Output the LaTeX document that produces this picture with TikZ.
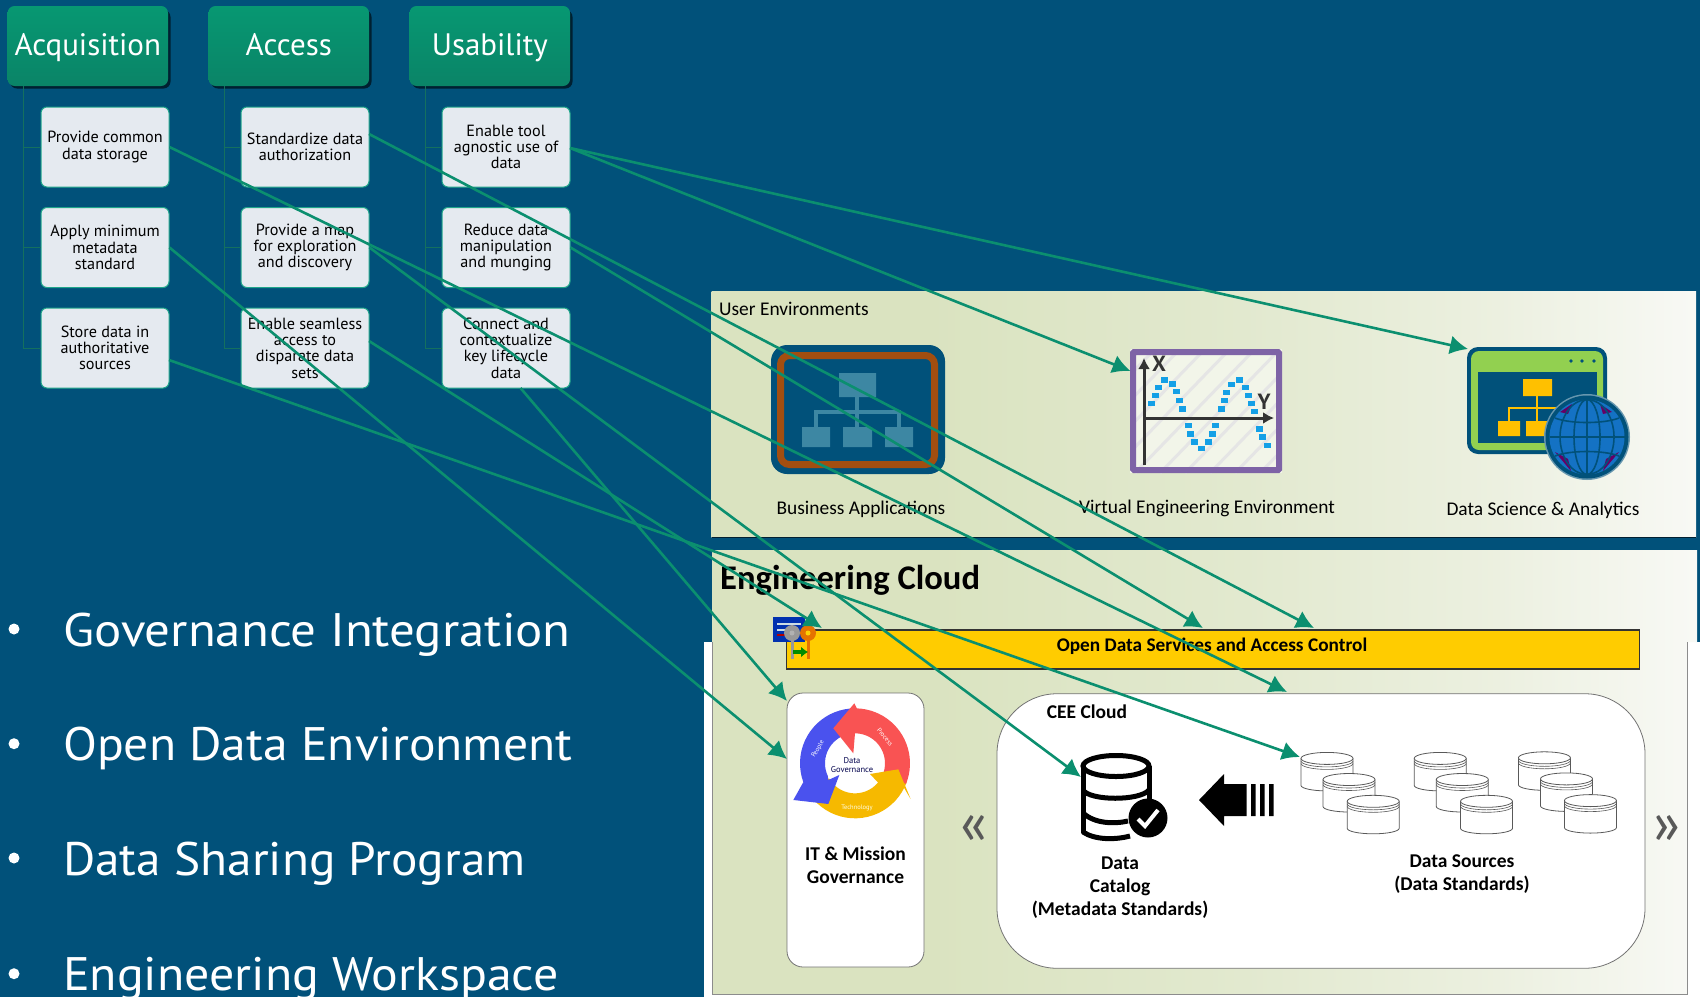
\documentclass[tikz,border=0pt]{standalone}
\usepackage{fontspec}
\usetikzlibrary{arrows.meta,calc}
\setmainfont{PT Sans}
\newfontfamily\carl{Carlito}
\newfontfamily\widesans[FakeStretch=1.085]{PT Sans}
\definecolor{bgblue}{HTML}{01517A}
\definecolor{arrowgreen}{HTML}{0B8F6F}
\definecolor{treegreen}{HTML}{14705F}
\definecolor{headgreen}{HTML}{079872}
\definecolor{headgreenB}{HTML}{0A8467}
\definecolor{childfill}{HTML}{E5EAF0}
\definecolor{childline}{HTML}{1FA58A}
\definecolor{panelL}{HTML}{DAE3C0}
\definecolor{panelM}{HTML}{E2E9CF}
\definecolor{panelN}{HTML}{ECF0E0}
\definecolor{panelR}{HTML}{F8F9F5}
\definecolor{barY}{HTML}{FFCC00}
\definecolor{iconteal}{HTML}{3D87A3}
\definecolor{iconorange}{HTML}{A24E10}
\definecolor{iconpurple}{HTML}{7E63A6}
\definecolor{dotblue}{HTML}{14A0E6}
\definecolor{dsgreen}{HTML}{92D050}
\definecolor{dsyellow}{HTML}{FFC000}
\definecolor{globeblue}{HTML}{1472C4}
\definecolor{cyclered}{HTML}{F95353}
\definecolor{cycleblue}{HTML}{4A52EE}
\definecolor{cycleyellow}{HTML}{F6B900}
\pgfdeclarehorizontalshading{panelshade}{100bp}{color(0bp)=(panelL); color(36bp)=(panelL); color(52bp)=(panelM); color(65bp)=(panelN); color(75bp)=(panelR); color(100bp)=(panelR)}
\tikzset{
  head/.style={rounded corners=7pt,minimum width=160.5pt,minimum height=80pt,inner sep=0pt,
    top color=headgreen,bottom color=headgreenB,text=white,text height=23pt,text depth=5pt,
    font=\fontsize{31}{36}\selectfont},
  headshadow/.style={rounded corners=7pt,fill=black!60!bgblue},
  child/.style={rounded corners=6pt,minimum width=128pt,minimum height=80pt,inner sep=0pt,
    fill=childfill,draw=childline,line width=1pt,align=center,text=black,
    font=\fontsize{16.2}{16.3}\selectfont},
  tree/.style={draw=treegreen,line width=1pt},
  link/.style={draw=arrowgreen,line width=2.6pt,-{Latex[length=18pt,width=19pt]}},
  lab/.style={font=\carl\fontsize{19.4}{23}\selectfont,align=center,text=black,inner sep=0pt},
  blab/.style={font=\carl\bfseries\fontsize{19.5}{23}\selectfont,align=center,text=black,inner sep=0pt},
  bullet/.style={anchor=base west,inner sep=0pt,text=white,font=\widesans\fontsize{47}{50}\selectfont},
  chev/.style={inner sep=0pt,text=black!65,font=\carl\fontsize{66}{66}\selectfont},
  cylb/.style={draw=black!65,line width=.8pt,fill=white}
}
\newcommand{\cylinder}[2]{%
  \fill[white] (#1,#2+6) -- (#1,#2+33) arc[start angle=180,end angle=360,x radius=26pt,y radius=5.5pt] -- (#1+52,#2+6) -- cycle;
  \draw[draw=black!65,line width=.8pt] (#1,#2+6) -- (#1,#2+33) arc[start angle=180,end angle=360,x radius=26pt,y radius=5.5pt] -- (#1+52,#2+6);
  \draw[cylb] (#1+26,#2+6) ellipse[x radius=26pt,y radius=6pt];
  \draw[draw=black!65,line width=.6pt] (#1,#2+8.5) arc[start angle=180,end angle=360,x radius=26pt,y radius=6pt];
  \draw[draw=black!65,line width=.6pt] (#1,#2+11) arc[start angle=180,end angle=360,x radius=26pt,y radius=6pt];
}
\begin{document}
\begin{tikzpicture}[x=1pt,y=-1pt]
\useasboundingbox (0,0) rectangle (1700,997);
\fill[bgblue] (0,0) rectangle (1700,997);
\fill[white] (704,642) rectangle (1700,997);
% User panel
\shade[shading=panelshade] (711.5,291) rectangle (1696,537);
\draw[black!60!bgblue,line width=1pt] (711.5,537) -- (1696,537);
% Engineering panel
\shade[shading=panelshade] (712,550) -- (1697,550) -- (1697,642) -- (1687,642) -- (1687,994) -- (712,994) -- cycle;
\draw[black!45,line width=.8pt] (1687,642) -- (1687,994) -- (712,994) -- (712,642);

% Header shadows and boxes
\foreach \xx in {88,289,490}{\fill[headshadow] (\xx-78,10) rectangle (\xx+82.5,88.5);}
\node[head] (h1) at (87.8,46) {Acquisition};
\node[head] (h2) at (288.8,46) {Access};
\node[head] (h3) at (489.8,46) {Usability};
\node[child] (c11) at (105,147) {Provide common\\data storage};
\node[child] (c12) at (105,247.5) {Apply minimum\\metadata\\standard};
\node[child] (c13) at (105,348) {Store data in\\authoritative\\sources};
\node[child] (c21) at (305,147) {Standardize data\\authorization};
\node[child] (c22) at (305,247.5) {Provide a map\\for exploration\\and discovery};
\node[child] (c23) at (305,348) {Enable seamless\\access to\\disparate data\\sets};
\node[child] (c31) at (506,147) {Enable tool\\agnostic use of\\data};
\node[child] (c32) at (506,247.5) {Reduce data\\manipulation\\and munging};
\node[child] (c33) at (506,348) {Connect and\\contextualize\\key lifecycle\\data};
\coordinate (t1) at (23.7,86);
\coordinate (t2) at (224.6,86);
\coordinate (t3) at (425.5,86);
\foreach \tt/\cc in {t1/c11,t1/c12,t1/c13,t2/c21,t2/c22,t2/c23,t3/c31,t3/c32,t3/c33}{\draw[tree] (\tt) |- (\cc.west);}

% Bullets
\foreach \yy/\sx/\txt in {646/.998/Governance Integration,760.7/.973/Open Data Environment,875/.968/Data Sharing Program,990.7/.978/Engineering Workspace}{
  \fill[white] (14,\yy-17) circle (5.5pt);
  \node[bullet] at (63,\yy) {\scalebox{\sx}[1]{\txt}};
}

% Panel labels
\node[lab,anchor=west] (ue) at (719,309) {User Environments};
\node[lab] (ba) at (861,509) {Business Applications};
\node[lab] (ve) at (1207,508) {Virtual Engineering Environment};
\node[lab] (ds) at (1543,510) {Data Science \& Analytics};
\node[anchor=west,inner sep=0pt,font=\carl\bfseries\fontsize{34.6}{36}\selectfont] (ec) at (720,580) {Engineering Cloud};

% Business icon
\fill[bgblue,rounded corners=16pt] (771,345) rectangle (945,474);
\draw[iconorange,line width=7pt,rounded corners=9pt] (780.5,355.5) rectangle (934.5,464.5);
\draw[iconteal,line width=4pt] (857,397) -- (857,427) (816,427) -- (816,412) -- (899,412) -- (899,427);
\fill[iconteal] (839,373) rectangle (876,397) (802,427) rectangle (830,447) (843,427) rectangle (872,447) (885,427) rectangle (913,447);

% VE icon
\begin{scope}
  \clip (1130,349) rectangle (1282,473);
  \fill[white!65!panelL] (1130,349) rectangle (1282,473);
  \foreach \k in {0,25,...,300}{\draw[black!10,line width=3pt] (1130+\k-120,473) -- (1130+\k,349);}
\end{scope}
\draw[iconpurple,line width=6pt,rounded corners=1pt] (1133,352) rectangle (1279,470);
\draw[black!80,line width=3pt,-{Latex[length=11pt,width=12pt]}] (1144,465) -- (1144,358);
\draw[black!80,line width=3pt,-{Latex[length=11pt,width=12pt]}] (1144,418) -- (1274,418);
\node[inner sep=0pt,font=\bfseries\fontsize{22}{22}\selectfont,text=black!80] (vx) at (1159,364) {X};
\node[inner sep=0pt,font=\bfseries\fontsize{22}{22}\selectfont,text=black!80] (vy) at (1264,402) {Y};
\foreach \px/\py in {95/190,105/167,115/142,132/120,156/132,170/155,179/181,187/207,204/257,212/282,224/306,244/325,265/306,277/282,287/257,303/207,312/181,320/157,334/133,358/120,376/142,386/167,395/190,402/215,418/267,428/291,442/316}{
  \fill[dotblue] ({1120+\px/3-3.5},{340+\py/3-2.8}) rectangle ({1120+\px/3+3.5},{340+\py/3+2.8});
}

% Data science icon
\fill[bgblue,rounded corners=11pt] (1467,347) rectangle (1607,454);
\fill[dsgreen,rounded corners=8pt] (1471,351) rectangle (1603,450);
\fill[bgblue] (1478,372) rectangle (1597,443);
\fill[bgblue] (1571,361) circle (1.8pt) (1582,361) circle (1.8pt) (1594,361) circle (1.8pt);
\draw[dsyellow,line width=2pt] (1537,396) -- (1537,421) (1509,421) -- (1509,408) -- (1566,408);
\fill[dsyellow] (1523,379) rectangle (1552,396) (1498,421) rectangle (1520,436) (1526,421) rectangle (1548,436);
\fill[bgblue!60!white] (1587,437) circle (43pt);
\fill[bgblue] (1587,437) circle (41.5pt);
\fill[globeblue] (1587,437) circle (37.5pt);
\fill[violet!80!black] (1560,412) -- (1572,404) -- (1568,414) -- cycle (1600,404) -- (1612,412) -- (1603,414) -- cycle (1555,452) -- (1568,459) -- (1571,471) -- cycle (1619,452) -- (1606,459) -- (1603,471) -- cycle;
\draw[bgblue,line width=1.6pt] (1587,399.5) -- (1587,474.5) (1549.5,437) -- (1624.5,437);
\draw[bgblue,line width=1.6pt] (1587,437) ellipse[x radius=13pt,y radius=37.5pt] (1587,437) ellipse[x radius=27pt,y radius=37.5pt];
\draw[bgblue,line width=1.6pt] (1555,418) .. controls (1570,424) and (1604,424) .. (1619,418) (1555,456) .. controls (1570,450) and (1604,450) .. (1619,456);

% Open data bar
\node[draw=black!80,line width=1.2pt,fill=barY,minimum width=853.5pt,minimum height=39pt,inner sep=0pt] (bar) at (1213,649.5) {};
\node[inner sep=0pt,font=\carl\bfseries\fontsize{19.3}{22}\selectfont] (bartext) at (1212,646.5) {Open Data Services and Access Control};
% key icon
\fill[blue!40!bgblue] (773,617) rectangle (805,642);
\draw[white!80!bgblue,line width=1.5pt] (777,624) -- (801,624) (777,630) -- (788,630);
\draw[red!70!black,line width=1.2pt] (777,635) -- (788,635);
\draw[black!40,line width=3pt] (792,640) -- (792,659);
\draw[orange!90!black,line width=3pt] (808,640) -- (808,659);
\fill[black!40] (792,633) circle (8pt);
\fill[orange!90!black] (808,633) circle (8pt);
\fill[white!70!black] (792,633) circle (2.5pt);
\fill[yellow!70!orange] (808,633) circle (2.5pt);
\draw[green!55!black,line width=4pt,-{Latex[length=7pt,width=11pt]}] (793,652) -- (808,652);

% Governance box
\node[draw=black!55,line width=.8pt,fill=white,rounded corners=16pt,minimum width=137pt,minimum height=274pt,inner sep=0pt] (gov) at (855.5,830) {};
\node[draw=black!55,line width=.8pt,fill=white,rounded corners=60pt,minimum width=648pt,minimum height=274.5pt,inner sep=0pt] (cee) at (1321,831) {};

% Governance cycle
\begin{scope}[shift={(770,600)},x=.3333pt,y=-.3333pt]
  \fill[cycleyellow] plot[domain=20:150,samples=24] ({255+165*cos(\x)},{490+165*sin(\x)}) -- plot[domain=150:20,samples=24] ({255+90*cos(\x)},{490+90*sin(\x)}) -- cycle;
  \fill[cycleblue] plot[domain=-95:-200,samples=20] ({255+165*cos(\x)},{490+165*sin(\x)}) -- (70,600) -- (175,612) -- (208,525) -- (175,540) -- plot[domain=-205:-95,samples=20] ({255+90*cos(\x)},{490+90*sin(\x)}) -- cycle;
  \fill[cyclered] (253,310) -- (190,385) -- (250,460) -- plot[domain=-90:20,samples=24] ({255+90*cos(\x)},{490+90*sin(\x)}) -- plot[domain=22:-88,samples=24] ({255+165*cos(\x)},{490+165*sin(\x)}) -- cycle;
  \fill[cycleyellow] (300,522) -- (385,508) -- (422,597) -- (400,560) -- (345,570) -- cycle;
\end{scope}
\node[inner sep=0pt,align=center,text=blue!30!black,font=\fontsize{8.5}{8.8}\selectfont] (dg) at (852,765) {Data\\Governance};
\node[inner sep=0pt,text=white,rotate=60,font=\fontsize{6.5}{7}\selectfont] (pp) at (818,749) {People};
\node[inner sep=0pt,text=white,rotate=-50,font=\fontsize{6.5}{7}\selectfont] (pr) at (885,737) {Process};
\node[inner sep=0pt,text=white!90!yellow,font=\fontsize{6.5}{7}\selectfont] (te) at (857,808) {Technology};
\node[blab] (itm) at (855.5,865.5) {IT \& Mission\\Governance};

\node[chev] (lchev) at (973.5,830) {«};
\node[chev] (rchev) at (1666,830) {»};

% CEE contents
\node[blab] (ceel) at (1087,712) {CEE Cloud};
\draw[black,line width=5pt] (1116,766) ellipse[x radius=33pt,y radius=10.5pt];
\draw[black,line width=5pt,line cap=round] (1083,766) -- (1083,832);
\draw[black,line width=5pt] (1149,766) -- (1149,805);
\draw[black,line width=5pt] (1083,790) .. controls (1090,801) and (1140,801) .. (1149,790);
\draw[black,line width=5pt] (1083,813) .. controls (1095,824) and (1115,824) .. (1128,821);
\draw[black,line width=5pt] (1083,832) .. controls (1095,840) and (1115,840) .. (1130,836);
\fill[black] (1148,818) circle (19.5pt);
\draw[white,line width=4pt] (1138,819) -- (1145,826) -- (1158,810);
\node[blab] (cat) at (1120,888) {Data\\Catalog\\(Metadata Standards)};
\fill[black] (1199,800) -- (1224,774) -- (1224,784) -- (1246.5,784) -- (1246.5,816) -- (1224,816) -- (1224,826) -- cycle;
\fill[black] (1251,784) rectangle (1255.5,816) (1260,784) rectangle (1264.5,816) (1269,784) rectangle (1273.5,816);
\cylinder{1301}{752.4}\cylinder{1323}{773.5}\cylinder{1347.2}{795.3}
\cylinder{1414.2}{752.4}\cylinder{1436.3}{773.5}\cylinder{1460.5}{795.3}
\cylinder{1518.4}{751.8}\cylinder{1540.5}{772.9}\cylinder{1564.4}{794.6}
\node[blab] (dsrc) at (1462,874) {Data Sources\\(Data Standards)};

% Connector end points
\coordinate (s21) at (369,134);
\coordinate (s31) at (570,148);
\coordinate (s23) at (369,341);
\coordinate (s13) at (169,360);
\coordinate (s33) at (520.5,388);
\coordinate (tve) at (1130.5,371);
\coordinate (tds) at (1468,349);
\coordinate (tb1) at (1314,628);
\coordinate (tb2) at (1203,628);
\coordinate (tb3) at (822,628);
\coordinate (tc1) at (1287,692);
\coordinate (tcat) at (1081,777);
\coordinate (tsrc) at (1300,757);
\coordinate (tg1) at (787,701);
\coordinate (tg2) at (787,759);
% Connectors
\draw[link] (s31) -- (tds);
\draw[link] (s31) -- (tve);
\draw[link] (s21) -- (tb1);
\draw[link] (c32.east) -- (tb2);
\draw[link] (c11.east) -- (tc1);
\draw[link] (c22.east) -- (tcat);
\draw[link] (s13) -- (tsrc);
\draw[link] (s23) -- (tb3);
\draw[link] (c12.east) -- (tg2);
\draw[link] (s33) -- (tg1);
\end{tikzpicture}
\end{document}
